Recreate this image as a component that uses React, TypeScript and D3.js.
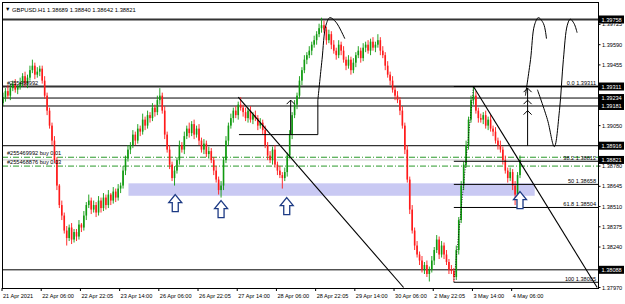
import React from 'react';
import * as d3 from 'd3';

const W = 625, H = 304;
const PIP = 0.0001;

// ---- candle data (H1 bars, 21 Apr 14:00 .. 4 May 09:00) ----
const firstOpen = 1.3920;
const closes = [
  1.3924,1.3928,1.3925,1.3930,1.3933,1.3929,1.3931,1.3934,1.3938,1.3933,
  1.3937,1.3942,1.3945,1.3939,1.3941,1.3943,1.3935,1.3925,1.3915,1.3905,
  1.3895,1.3882,1.3865,1.3852,1.3845,1.3835,1.3830,1.3837,1.3829,1.3834,
  1.3831,1.3839,1.3837,1.3845,1.3852,1.3855,1.3849,1.3852,1.3847,1.3855,
  1.3850,1.3857,1.3852,1.3859,1.3855,1.3861,1.3857,1.3863,1.3865,1.3875,
  1.3883,1.3889,1.3892,1.3899,1.3895,1.3903,1.3901,1.3909,1.3905,1.3912,
  1.3910,1.3917,1.3914,1.3922,1.3925,1.3915,1.3899,1.3889,1.3879,1.3870,
  1.3875,1.3882,1.3892,1.3889,1.3898,1.3903,1.3900,1.3906,1.3899,1.3903,
  1.3895,1.3889,1.3893,1.3886,1.3888,1.3882,1.3875,1.3869,1.3862,1.3865,
  1.3882,1.3895,1.3905,1.3910,1.3915,1.3912,1.3919,1.3917,1.3914,1.3910,
  1.3915,1.3909,1.3912,1.3910,1.3905,1.3907,1.3902,1.3892,1.3885,1.3882,
  1.3889,1.3879,1.3875,1.3872,1.3870,1.3874,1.3885,1.3899,1.3912,1.3919,
  1.3925,1.3935,1.3942,1.3949,1.3952,1.3955,1.3959,1.3962,1.3966,1.3970,
  1.3972,1.3969,1.3962,1.3966,1.3959,1.3955,1.3952,1.3959,1.3955,1.3949,
  1.3945,1.3949,1.3942,1.3947,1.3952,1.3955,1.3950,1.3957,1.3959,1.3955,
  1.3961,1.3957,1.3959,1.3962,1.3955,1.3952,1.3945,1.3939,1.3935,1.3929,
  1.3925,1.3922,1.3915,1.3905,1.3889,1.3869,1.3849,1.3835,1.3825,1.3819,
  1.3815,1.3809,1.3812,1.3806,1.3809,1.3815,1.3822,1.3829,1.3819,1.3825,
  1.3819,1.3814,1.3809,1.3808,1.3804,1.3822,1.3842,1.3865,1.3879,1.3892,
  1.3909,1.3922,1.3925,1.3915,1.3910,1.3909,1.3912,1.3905,1.3909,1.3903,
  1.3901,1.3895,1.3892,1.3889,1.3882,1.3875,1.3870,1.3874,1.3865,1.3859,
  1.3872,1.38821,
];
const upWick = [
  3,2,4,3,2,3,1,3,2,3, 2,3,4,2,3,2,2,3,2,2, 2,3,2,1,3,2,3,2,3,2,
  2,3,1,3,2,4,2,3,2,3, 2,3,2,3,1,3,2,3,2,3, 2,3,2,3,2,3,2,4,2,3,
  2,3,2,3,5,2,3,2,3,2, 3,2,3,2,3,2,4,2,3,2, 3,2,3,2,3,2,2,3,2,3,
  2,3,2,3,2,3,2,5,2,3, 2,3,2,3,2,3,2,3,2,3, 2,3,2,3,2,3,2,3,2,3,
  2,3,2,3,2,3,2,3,2,3, 5,3,2,3,2,3,2,3,2,3, 2,3,2,3,2,3,2,3,2,3,
  2,3,2,4,2,3,2,3,2,3, 2,3,2,3,2,3,2,3,2,3, 2,3,2,3,2,3,2,3,2,3,
  2,3,2,3,2,3,2,3,2,3, 2,3,6,3,2,3,2,3,2,3, 2,3,2,3,2,3,2,3,2,3,
  2,3,
];
const downWick = [
  2,3,2,3,2,2,3,2,3,2, 3,2,2,3,2,3,2,2,3,2, 3,2,3,2,3,2,5,2,3,2,
  3,2,3,2,3,2,3,2,3,2, 3,2,3,2,3,2,3,2,3,2, 3,2,3,2,3,2,3,2,3,2,
  3,2,3,2,3,2,3,2,3,2, 5,2,3,2,3,2,3,2,3,2, 3,2,3,2,3,2,3,2,3,5,
  3,2,3,2,3,2,3,2,3,2, 3,2,3,2,3,2,3,2,3,2, 3,2,3,2,7,2,3,2,3,2,
  3,2,3,2,3,2,3,2,3,2, 3,2,3,2,3,2,3,2,3,2, 3,2,3,2,3,2,3,2,3,2,
  3,2,3,2,3,2,3,2,3,2, 3,2,3,2,3,2,3,2,3,2, 3,2,3,2,5,2,3,2,3,2,
  3,2,3,2,3,2,3,2,3,2, 3,2,3,2,3,2,3,2,3,2, 3,2,3,2,3,2,3,2,3,7,
  3,2,
];

// ---- axis labels ----
const priceTicks = [1.3797, 1.3824, 1.38375, 1.3851, 1.38645, 1.3878, 1.3905, 1.39455, 1.3959, 1.39725];
const timeTickBars = [0, 16, 32, 48, 64, 80, 96, 112, 128, 144, 160, 176, 192, 208];
const timeLabels = ['21 Apr 2021', '22 Apr 06:00', '22 Apr 22:05', '23 Apr 14:00', '26 Apr 06:00', '26 Apr 22:05',
  '27 Apr 14:00', '28 Apr 06:00', '28 Apr 22:05', '29 Apr 14:00', '30 Apr 06:00', '2 May 22:05', '3 May 14:00', '4 May 06:00'];

// ---- horizontal levels ----
const levelPrices = [1.39758, 1.39311, 1.39234, 1.39181, 1.38916, 1.38088];
const levelWidths = [2, 2, 1, 1, 1, 1];
const boxPrices = [1.39758, 1.39311, 1.39234, 1.39181, 1.38916, 1.38821, 1.38088];
const orderPrices = [1.38839, 1.3878];
const orderLabels = ['#255469992 buy 0.01', '#255468876 buy 0.03'];
const bidPrice = 1.38821;

// ---- fibonacci ----
const fibStart = [184, 1.38005];
const fibEnd = [192, 1.39311];
const fibLevels = [0, 38.2, 50, 61.8, 100];

// ---- zones, trendlines, arrows, drawings (bar index, price) ----
const zone = { b0: 51.2, b1: 217, p0: 1.38665, p1: 1.38582 };
const trendlines = [
  [[96, 1.3924], [163.5, 1.3797]],
  [[192, 1.39311], [242.5, 1.3797]],
];
const arrowAnchors = [[70.3, 1.3859], [89, 1.3855], [115.8, 1.3857], [211, 1.3861]];
const drawings = [
  [[96.3, 1.3899], [128.5, 1.3899]],
  [[128.5, 1.3899], [128.5, 1.3922]],
  [[128.5, 1.3922], [130.2, 1.3949], [131.8, 1.3972], [133.4, 1.3977], [135.9, 1.3974], [139.5, 1.3963]],
  [[117.4, 1.3899], [117.4, 1.3922]],
  [[214.1, 1.38916], [214.1, 1.3930]],
  [[213.2, 1.3925], [215.3, 1.3949], [216.9, 1.3972], [218.5, 1.3977], [220.6, 1.3973], [221.8, 1.3963]],
  [[218.1, 1.3929], [222.2, 1.3909], [225.0, 1.3891], [227.1, 1.3915], [228.7, 1.3949], [230.3, 1.3972], [231.5, 1.3976], [233.1, 1.3973], [234.3, 1.3967]],
];
const chevrons = [[117.4, 1.3922], [214.1, 1.3930], [214.1, 1.3922], [214.1, 1.3915]];

const FONT = '"Liberation Sans", Arial, sans-serif';

export default function App() {
  const L = 2, R = 598, T = 2, B = 288;
  const x = d3.scaleLinear().domain([0, 211]).range([3, 520]);
  const y = d3.scaleLinear().domain([1.3797, 1.39758]).range([287.5, 19.5]);

  const candles = closes.map((c, i) => {
    const o = i === 0 ? firstOpen : closes[i - 1];
    const hi = Math.max(o, c) + upWick[i] * PIP;
    const lo = Math.min(o, c) - downWick[i] * PIP;
    return { o, c, hi, lo, i };
  });

  const fibRange = fibEnd[1] - fibStart[1];
  const line = d3.line<number[]>().x(d => x(d[0])).y(d => y(d[1])).curve(d3.curveCatmullRom);
  const straight = d3.line<number[]>().x(d => x(d[0])).y(d => y(d[1]));

  const arrowPath = (cx: number, ty: number) =>
    `M${cx},${ty} L${cx + 6.5},${ty + 8} L${cx + 3},${ty + 8} L${cx + 3},${ty + 17} L${cx - 3},${ty + 17} L${cx - 3},${ty + 8} L${cx - 6.5},${ty + 8} Z`;

  return (
    <svg width={W} height={H} style={{ position: 'fixed', left: 0, top: 0, background: '#fff' }} fontFamily={FONT}>
      <defs>
        <clipPath id="plot"><rect x={L} y={T} width={R - L} height={B - T} /></clipPath>
      </defs>
      <rect x={0} y={0} width={W} height={H} fill="#fff" />
      <g clipPath="url(#plot)">
        <rect x={x(zone.b0)} y={y(zone.p0)} width={x(zone.b1) - x(zone.b0)} height={y(zone.p1) - y(zone.p0)} fill="#c9c9f3" />
        {levelPrices.map((p, k) => (
          <line key={'lv' + k} x1={L} x2={R} y1={y(p)} y2={y(p)} stroke={k < 2 ? '#333' : '#000'} strokeWidth={levelWidths[k]} />
        ))}
        <line x1={L} x2={R} y1={y(bidPrice)} y2={y(bidPrice)} stroke="#c8c8c8" strokeWidth={1} />
        {orderPrices.map((p, k) => (
          <line key={'or' + k} x1={L} x2={R} y1={y(p)} y2={y(p)} stroke="#2a9a2a" strokeWidth={1} strokeDasharray="6,2,1,2" />
        ))}
        {candles.map(d => {
          const up = d.c >= d.o;
          const col = up ? '#109a10' : '#ff1a1a';
          const top = y(Math.max(d.o, d.c));
          const bh = Math.max(1, y(Math.min(d.o, d.c)) - top);
          return (
            <g key={'c' + d.i}>
              <line x1={x(d.i)} x2={x(d.i)} y1={y(d.hi)} y2={y(d.lo)} stroke={col} strokeWidth={0.9} />
              <rect x={x(d.i) - 0.8} y={top} width={1.6} height={bh} fill={col} />
            </g>
          );
        })}
        {fibLevels.map((lv, k) => {
          const p = fibEnd[1] - fibRange * lv / 100;
          return <line key={'fb' + k} x1={x(fibStart[0])} x2={R} y1={y(p)} y2={y(p)} stroke="#000" strokeWidth={1} />;
        })}
        <path d={straight([fibStart, fibEnd]) || ''} stroke="#000" strokeWidth={0.8} strokeDasharray="1,1.5" fill="none" />
        {trendlines.map((t, k) => (
          <path key={'tl' + k} d={straight(t) || ''} stroke="#000" strokeWidth={1.1} fill="none" />
        ))}
        {drawings.map((dr, k) => (
          <path key={'dr' + k} d={(dr.length > 2 ? line(dr) : straight(dr)) || ''} stroke="#000" strokeWidth={1} fill="none" />
        ))}
        {chevrons.map((c, k) => (
          <path key={'ch' + k} d={`M${x(c[0]) - 4},${y(c[1]) + 4} L${x(c[0])},${y(c[1])} L${x(c[0]) + 4},${y(c[1]) + 4}`} stroke="#000" strokeWidth={1} fill="none" />
        ))}
        {arrowAnchors.map((a, k) => (
          <path key={'ar' + k} d={arrowPath(x(a[0]), y(a[1]))} fill="#fff" stroke="#1c3a84" strokeWidth={1.3} />
        ))}
        {fibLevels.map((lv, k) => {
          const p = fibEnd[1] - fibRange * lv / 100;
          return (
            <text key={'ft' + k} x={R - 2} y={y(p) - 1.5} fontSize={5.6} textAnchor="end" fill="#000">
              {`${lv === 0 ? '0.0' : lv} ${d3.format('.5f')(p)}`}
            </text>
          );
        })}
        {orderLabels.map((t, k) => (
          <text key={'ol' + k} x={7} y={y(orderPrices[k]) - 2} fontSize={5.6} fill="#000">{t}</text>
        ))}
        <text x={7} y={y(1.39311) - 2} fontSize={5.6} fill="#000">#255468992</text>
      </g>
      <rect x={L + 0.5} y={T + 0.5} width={R - L} height={B - T} fill="none" stroke="#000" strokeWidth={1} />
      <text x={5} y={11} fontSize={5.5} fill="#000">▼</text>
      <text x={12} y={11.5} fontSize={5.8} fill="#000">GBPUSD.H1  1.38689 1.38840 1.38642 1.38821</text>
      {priceTicks.map((p, k) => (
        <g key={'pt' + k}>
          <line x1={R} x2={R + 2.5} y1={y(p)} y2={y(p)} stroke="#000" />
          <text x={R + 4} y={y(p) + 2} fontSize={5.6} fill="#000">{d3.format('.5f')(p)}</text>
        </g>
      ))}
      {boxPrices.map((p, k) => (
        <g key={'bx' + k}>
          <rect x={R + 1} y={y(p) - 4} width={25} height={8} fill="#000" />
          <text x={R + 3.5} y={y(p) + 2} fontSize={5.6} fill="#fff">{d3.format('.5f')(p)}</text>
        </g>
      ))}
      {timeTickBars.map((b, k) => (
        <g key={'tt' + k}>
          <line x1={x(b) - 1} x2={x(b) - 1} y1={B} y2={B + 3} stroke="#000" />
          <text x={x(b)} y={298} fontSize={5.6} fill="#000">{timeLabels[k]}</text>
        </g>
      ))}
    </svg>
  );
}
